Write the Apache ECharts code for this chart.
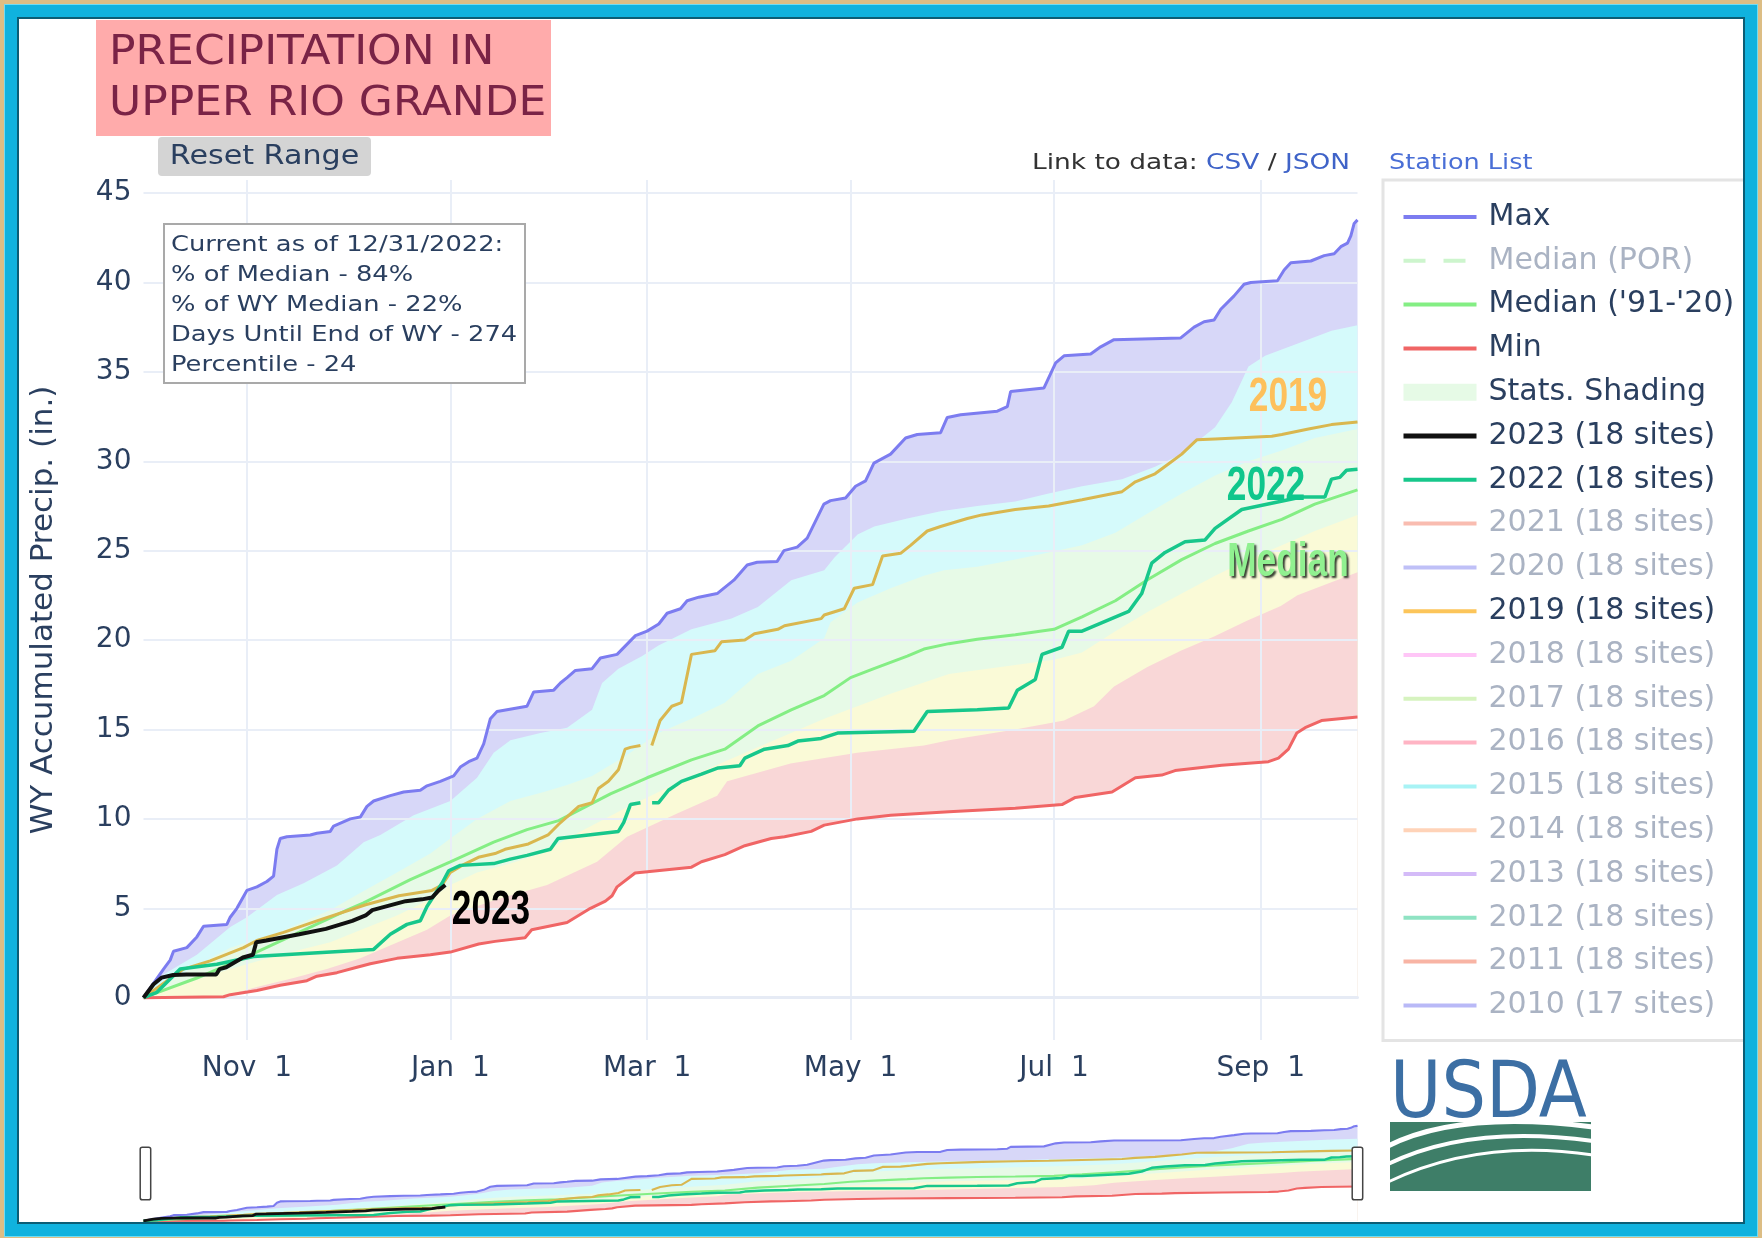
<!DOCTYPE html>
<html>
<head>
<meta charset="utf-8">
<title>Precipitation in Upper Rio Grande</title>
<script src="https://cdn.jsdelivr.net/npm/echarts@6/dist/echarts.min.js"></script>
<style>
  html, body { margin: 0; padding: 0; }
  body { width: 1762px; height: 1238px; background: #dcbd84; overflow: hidden; position: relative; }
  #paper { position: absolute; left: 17px; top: 17px; width: 1728px; height: 1209px; background: #fff; }
  #chart { position: absolute; left: 0; top: 0; width: 1762px; height: 1238px; }
  #frame {
    position: absolute; left: 5px; top: 5px; width: 1752px; height: 1231px;
    box-sizing: border-box; border: 12px solid #10b2de;
    box-shadow: inset 0 0 0 2px #0b5d75, 0 0 0 1px #6fdcf4;
    pointer-events: none;
  }
</style>
</head>
<body>
<div id="paper"></div>
<div id="chart"></div>
<div id="frame"></div>
<script>
// day of water year (0 = Oct 1), accumulated precip in inches
const xTickDays = [31, 92, 151, 212, 273, 335]
const xTickLabels = ['Nov  1', 'Jan  1', 'Mar  1', 'May  1', 'Jul  1', 'Sep  1']
const yTicks = [0, 5, 10, 15, 20, 25, 30, 35, 40, 45]

const maxPrecip = [[0,0],[3,0.8],[6,1.6],[8,2.1],[9,2.6],[13,2.8],[16,3.4],[18,4.0],[25,4.1],[26,4.5],[28,5.0],[31,6.0],[34,6.2],[37,6.5],[39,6.8],[40,8.3],[41,8.9],[43,9.0],[50,9.1],[52,9.2],[56,9.3],[57,9.6],[62,10.0],[65,10.1],[67,10.7],[69,11.0],[74,11.3],[78,11.5],[83,11.6],[85,11.85],[89,12.1],[93,12.4],[95,12.9],[97.5,13.2],[100,13.4],[102,14.2],[104,15.6],[106,16.0],[112,16.2],[115,16.3],[117,17.1],[123,17.2],[125,17.6],[127,17.9],[129.5,18.3],[134.5,18.4],[137,19.0],[142,19.2],[147.5,20.25],[151,20.5],[154.5,20.9],[157,21.5],[161,21.75],[163,22.2],[166.5,22.4],[172,22.6],[177,23.35],[181,24.2],[184,24.35],[190,24.4],[192,25.0],[196,25.2],[199,25.7],[204,27.6],[206,27.8],[210.5,27.95],[213.5,28.6],[216.5,28.9],[219,29.9],[224,30.4],[228.5,31.3],[232,31.5],[239,31.6],[241,32.45],[245,32.6],[256,32.8],[259,33.05],[260,33.9],[270,34.1],[273.5,35.5],[276,35.9],[284,36.0],[287,36.4],[291,36.8],[311,36.9],[315,37.5],[318,37.8],[321,37.9],[323,38.5],[327,39.25],[330,39.9],[332,40.0],[340,40.1],[342,40.7],[344,41.1],[350,41.2],[354,41.5],[357,41.6],[359,42.0],[361,42.2],[362,42.6],[363,43.3],[364,43.5]]
const p90Precip = [[0,0],[6,1.3],[16,2.4],[26,3.96],[31,4.5],[40,5.75],[48,6.4],[58,7.4],[66,8.7],[71,9.1],[81,10.2],[92,11.0],[100,12.3],[105,13.7],[110,14.4],[119,14.8],[127,15.1],[134.5,16.1],[137.5,17.6],[142.4,18.4],[149.4,19.1],[154.4,19.7],[164.3,20.6],[176.3,21.2],[184.2,21.85],[194.2,23.35],[204.1,23.9],[207.1,24.6],[214.1,25.9],[219.1,26.35],[229,26.8],[239,27.2],[250,27.5],[261.4,27.75],[271.4,28.2],[281.4,28.6],[293.4,29.0],[303.3,29.7],[311.3,30.4],[321.3,31.9],[326.3,33.3],[331.3,35.3],[336.3,35.9],[346.3,36.6],[356.2,37.3],[364,37.6]]
const p70Precip = [[0,0],[11,1.3],[26,2.8],[40,3.6],[56,4.9],[66,5.96],[76,7.0],[86,8.06],[92,8.9],[100,10.0],[110,11.0],[120,11.5],[127,11.9],[134.5,12.4],[144.4,13.5],[154.4,14.8],[164.3,15.6],[174.3,16.5],[184.2,18.1],[194.2,18.85],[204.1,20.1],[206,21.0],[214.1,22.1],[224,22.9],[234,23.6],[240,23.9],[250,24.1],[261.4,24.5],[271.4,24.9],[281.4,25.3],[291.4,26.0],[301.3,27.1],[311.3,28.2],[321.3,29.2],[331.3,30.0],[341.3,30.6],[351.2,31.3],[364,31.8]]
const p30Precip = [[0,0],[16,1.0],[26,1.6],[41,2.4],[56,3.1],[66,3.85],[76,4.6],[86,5.5],[92,6.3],[100,7.0],[110,7.5],[120,8.1],[127,8.9],[144.4,10.6],[164.3,12.4],[184.2,14.0],[204.1,15.6],[224,17.0],[241.5,18.1],[261.4,18.6],[273,18.9],[281.4,19.3],[291.4,20.5],[301.3,21.6],[311.3,22.6],[321.3,23.6],[331.3,24.5],[341.3,25.3],[351.2,26.1],[364,27.0]]
const p10Precip = [[0,0],[24,0.1],[34,0.6],[45,1.1],[55,1.6],[65,2.2],[75,3.0],[85,3.8],[92,4.6],[106,5.5],[121,6.3],[136,7.6],[145,9.0],[160,10.3],[172,11.3],[175,12.1],[194,13.1],[214,13.7],[234,14.1],[241.5,14.4],[261.4,15.0],[276,15.5],[285,16.3],[291,17.4],[301,18.5],[311,19.4],[321,20.2],[331,21.1],[341,21.9],[346,22.5],[364,23.8]]
const minPrecip = [[0,0],[24,0.05],[26,0.17],[34,0.4],[41,0.7],[49,0.95],[52,1.2],[58,1.4],[64,1.7],[68,1.9],[76,2.2],[86,2.4],[92,2.55],[100.5,3.0],[105.4,3.15],[114.4,3.35],[116.4,3.8],[127,4.2],[134,5.0],[138.5,5.4],[140.5,5.7],[142,6.2],[147.4,6.97],[164.3,7.3],[167.3,7.6],[174.3,8.0],[180.3,8.5],[188.2,8.9],[192.2,9.0],[200.2,9.3],[204.1,9.65],[214.1,10.0],[224,10.2],[241.5,10.4],[261.4,10.6],[275.4,10.8],[279.4,11.2],[290.4,11.5],[297.4,12.3],[305.3,12.45],[309.3,12.7],[323.3,13.0],[337.3,13.2],[340.3,13.4],[343.3,13.9],[345.8,14.8],[348.3,15.1],[353.2,15.5],[364,15.7]]
const medianPrecip = [[0,0],[16,1.1],[31,2.3],[46,3.6],[61,4.9],[66,5.3],[80,6.6],[92,7.6],[105,8.7],[115,9.4],[124.5,9.9],[140,11.4],[151,12.3],[164.3,13.3],[174.3,13.9],[184.2,15.2],[194.2,16.1],[204.1,16.9],[212,17.9],[219,18.4],[229,19.1],[234,19.5],[241.5,19.8],[250,20.05],[261.4,20.3],[273,20.6],[281.4,21.3],[291.4,22.2],[301.3,23.4],[311.3,24.5],[321.3,25.4],[331.3,26.1],[341.3,26.75],[351.2,27.6],[364,28.4]]
const wy2022 = [[0,0],[4,0.3],[11,1.6],[22,1.87],[33,2.3],[69,2.7],[74,3.55],[79,4.1],[83,4.3],[85,5.1],[89.5,6.4],[91.5,7.1],[95,7.4],[105,7.5],[110,7.75],[115,7.96],[122,8.3],[124.3,8.9],[142.4,9.3],[144,9.8],[146,10.8],[149,10.9],[150.5,null],[152.5,10.9],[154.4,10.9],[157.4,11.6],[161.3,12.1],[167.3,12.5],[172.3,12.85],[178.8,12.97],[180.3,13.4],[186.2,13.9],[193.2,14.1],[196.2,14.35],[203.2,14.5],[208.1,14.8],[231,14.9],[235,16.0],[250,16.1],[259.4,16.2],[262,17.2],[267.4,17.8],[269.4,19.2],[275.4,19.6],[277.4,20.5],[281.4,20.5],[295.4,21.6],[299.3,22.6],[302.3,24.3],[306.3,24.9],[312.3,25.5],[318.3,25.6],[321.3,26.25],[329.3,27.3],[347.2,28.0],[354.2,28.0],[356.2,29.0],[358.7,29.1],[360.7,29.5],[364,29.55]]
const wy2019 = [[0,0],[7,0.94],[12,1.6],[20,2.06],[30,2.8],[34,3.2],[42,3.65],[52,4.3],[66.6,5.2],[76.6,5.7],[86.5,6.0],[89.5,6.3],[92,7.0],[95.5,7.4],[100.4,7.85],[105.4,8.06],[108.4,8.3],[115.4,8.6],[121.3,9.1],[124.5,9.7],[127.5,10.2],[130.5,10.7],[134.5,10.9],[136.4,11.7],[139.4,12.1],[142.4,12.75],[144.4,13.9],[146,14.0],[149,14.1],[150.5,null],[152.4,14.1],[154.9,15.5],[158.4,16.3],[161.3,16.5],[164.3,19.2],[171.3,19.4],[173.3,19.9],[180.3,20.0],[183.2,20.35],[190.2,20.6],[192.2,20.8],[203.2,21.2],[204.1,21.4],[210.1,21.75],[213.1,22.9],[218.6,23.1],[221.6,24.7],[227,24.85],[230,25.3],[235,26.1],[239,26.35],[247,26.8],[251.4,27.0],[261.4,27.3],[271.4,27.5],[281.4,27.85],[293.4,28.3],[297.4,28.85],[303.3,29.3],[307.3,29.85],[311.3,30.4],[315.8,31.2],[321.3,31.25],[338.3,31.4],[341.3,31.5],[349.3,31.8],[356.2,32.05],[364,32.2]]
const wy2023 = [[0,0],[3,0.75],[5.4,1.12],[8.9,1.27],[12.9,1.3],[21.8,1.3],[22.8,1.6],[24.8,1.7],[29.8,2.25],[32.8,2.4],[33.8,3.1],[36.8,3.2],[46.7,3.55],[54.7,3.85],[62.6,4.3],[66.6,4.6],[68.6,4.9],[73.6,5.15],[78.6,5.4],[83.5,5.5],[86.5,5.6],[88.5,6.0],[90.5,6.3]]

const legendNames = ['Max', 'Median (POR)', "Median ('91-'20)", 'Min', 'Stats. Shading',
  '2023 (18 sites)', '2022 (18 sites)', '2021 (18 sites)', '2020 (18 sites)', '2019 (18 sites)',
  '2018 (18 sites)', '2017 (18 sites)', '2016 (18 sites)', '2015 (18 sites)', '2014 (18 sites)',
  '2013 (18 sites)', '2012 (18 sites)', '2011 (18 sites)', '2010 (17 sites)']
// traces that are only in the legend (hidden in the plot)
const ghostNames = ['Median (POR)', '2021 (18 sites)', '2020 (18 sites)', '2018 (18 sites)', '2017 (18 sites)',
  '2016 (18 sites)', '2015 (18 sites)', '2014 (18 sites)', '2013 (18 sites)', '2012 (18 sites)',
  '2011 (18 sites)', '2010 (17 sites)']
const ghostColors = ['#cdf5cd', '#f9bcb0', '#bfc0f7', '#ffc6f7', '#d6f3bf', '#ffb4c4', '#a8f3f5',
  '#ffd3b8', '#d4bbf8', '#8fe3c3', '#f8b4a4', '#b9b9f7']

const statsLines = ['Current as of 12/31/2022:', '% of Median - 84%', '% of WY Median - 22%',
  'Days Until End of WY - 274', 'Percentile - 24']

const FONT = 'DejaVu Sans'
const INK = '#2a3f5f'
const FADED = '#aab3c3'
const Y_MIN = -2.366
const Y_MAX = 45.73

function fillSeries(name, data, color, idx) {
  return {
    name, type: 'line', data, xAxisIndex: idx, yAxisIndex: idx,
    symbol: 'none', silent: true, z: 1,
    lineStyle: { width: 0, opacity: 0 },
    itemStyle: { color },
    areaStyle: { color, opacity: 1 }
  }
}

function lineSeries(name, data, color, width, idx, type) {
  return {
    name, type: 'line', data, xAxisIndex: idx, yAxisIndex: idx,
    symbol: 'none', silent: true, z: 3, connectNulls: false,
    itemStyle: { color },
    lineStyle: { color, width, type: type || 'solid' }
  }
}

function plotSeries(idx, k) {
  return [
    fillSeries('Max band', maxPrecip, '#d7d7f8', idx),
    fillSeries('90% band', p90Precip, '#d5fafb', idx),
    fillSeries('Stats. Shading', p70Precip, '#e7fae7', idx),
    fillSeries('30% band', p30Precip, '#fafad7', idx),
    fillSeries('10% band', p10Precip, '#f9d7d7', idx),
    fillSeries('Below min', minPrecip, '#ffffff', idx),
    lineSeries('Max', maxPrecip, '#7c7cf0', 3 * k, idx),
    lineSeries('Min', minPrecip, '#f06565', 3 * k, idx),
    lineSeries("Median ('91-'20)", medianPrecip, '#84ee84', 3 * k, idx),
    lineSeries('2019 (18 sites)', wy2019, '#d9b74f', 3 * k, idx),
    lineSeries('2022 (18 sites)', wy2022, '#17c78b', 3.5 * k, idx),
    lineSeries('2023 (18 sites)', wy2023, '#111111', 4 * k, idx)
  ]
}

const ghostSeries = ghostNames.map((n, i) =>
  lineSeries(n, [], ghostColors[i], 4, 0, n === 'Median (POR)' ? [22, 18] : 'solid'))

const legendData = legendNames.map(n => {
  const item = { name: n, textStyle: { color: ghostNames.includes(n) ? FADED : INK } }
  if (n === 'Stats. Shading') { item.icon = 'rect'; item.itemStyle = { color: '#e6fae6', borderWidth: 0, opacity: 1 } }
  if (n === '2019 (18 sites)') item.lineStyle = { color: '#fcc55a' }
  if (n === '2023 (18 sites)') item.lineStyle = { width: 5 }
  return item
})

const chart = echarts.init(document.getElementById('chart'))

const annotation = (text, x, y, color, shadow) => ({
  type: 'text', x, y, scaleX: 0.72, z: 20,
  style: Object.assign({
    x: 0, y: 0, text, align: 'center', verticalAlign: 'middle',
    fontFamily: 'Liberation Sans', fontWeight: 'bold', fontSize: 49, fill: color
  }, shadow ? { textShadowColor: 'rgba(20,30,20,0.85)', textShadowBlur: 2, textShadowOffsetX: 2, textShadowOffsetY: 2 } : {})
})

// plain text block, stretched a little to match the wide page font
const label = (text, x, y, size, fill, sx, align) => ({
  type: 'text', x, y, scaleX: sx, z: 21,
  style: { x: 0, y: 0, text, align: align || 'left', verticalAlign: 'middle', fontFamily: FONT, fontSize: size, fill }
})

chart.setOption({
  animation: false,
  backgroundColor: 'transparent',
  grid: [
    { left: 143.5, top: 180, width: 1214, height: 860 },
    { left: 143.5, top: 1121, width: 1214, height: 105 }
  ],
  xAxis: [
    {
      type: 'value', gridIndex: 0, min: 0, max: 364, z: 2,
      axisLine: { show: true, onZero: true, lineStyle: { color: '#e6ebf5', width: 3 } },
      axisTick: { show: false, customValues: xTickDays },
      axisLabel: {
        customValues: xTickDays, formatter: v => xTickLabels[xTickDays.indexOf(v)],
        fontFamily: FONT, fontSize: 28, color: INK, margin: 15
      },
      splitLine: { show: true, lineStyle: { color: '#e9eef7', width: 2 } }
    },
    { type: 'value', gridIndex: 1, min: 0, max: 364, show: false }
  ],
  yAxis: [
    {
      type: 'value', gridIndex: 0, min: Y_MIN, max: Y_MAX, z: 2,
      axisLine: { show: false },
      axisTick: { show: false, customValues: yTicks },
      axisLabel: { customValues: yTicks, fontFamily: FONT, fontSize: 28, color: INK, margin: 12 },
      splitLine: { show: true, lineStyle: { color: '#e9eef7', width: 2 } },
      name: 'WY Accumulated Precip. (in.)', nameLocation: 'middle', nameGap: 84, nameRotate: 90,
      nameTextStyle: { fontFamily: FONT, fontSize: 31, color: INK }
    },
    { type: 'value', gridIndex: 1, min: Y_MIN, max: Y_MAX, show: false }
  ],
  legend: {
    orient: 'vertical', left: 1383, top: 180,
    padding: [22, 14, 20, 18], itemWidth: 73, itemHeight: 17, itemGap: 13.8,
    borderColor: '#e4e4e4', borderWidth: 3, backgroundColor: '#fff',
    selectedMode: false,
    itemStyle: { opacity: 0 },
    lineStyle: { width: 4 },
    textStyle: { fontFamily: FONT, fontSize: 30, color: INK, lineHeight: 30, padding: [0, 0, 0, 7] },
    data: legendData
  },
  dataZoom: [{
    type: 'slider', xAxisIndex: 0, filterMode: 'none', start: 0, end: 100,
    left: 143.5, width: 1214, top: 1121, height: 105,
    showDataShadow: false, showDetail: false, brushSelect: false,
    backgroundColor: 'rgba(0,0,0,0)', borderColor: 'rgba(0,0,0,0)', fillerColor: 'rgba(0,0,0,0)',
    handleIcon: 'path://M2,0 h6 a2,2 0 0 1 2,2 v46 a2,2 0 0 1 -2,2 h-6 a2,2 0 0 1 -2,-2 v-46 a2,2 0 0 1 2,-2 z',
    handleSize: '50%',
    handleStyle: { color: '#ffffff', borderColor: '#444', borderWidth: 1.5 },
    moveHandleSize: 0,
    emphasis: { handleStyle: { color: '#ffffff', borderColor: '#444', borderWidth: 1.5 } }
  }],
  graphic: [
    // title block
    { type: 'rect', z: 20, shape: { x: 96, y: 20, width: 455, height: 116 }, style: { fill: '#ffabab' } },
    label('PRECIPITATION IN', 109, 54, 40, '#7a2346', 1.1),
    label('UPPER RIO GRANDE', 109, 105, 40, '#7a2346', 1.1),
    // reset button
    { type: 'rect', z: 20, shape: { x: 158, y: 137, width: 213, height: 39, r: 4 }, style: { fill: '#d4d4d4' } },
    label('Reset Range', 264.5, 157, 26, INK, 1.16, 'center'),
    // data links
    {
      type: 'text', x: 1032, y: 163, scaleX: 1.2, z: 21,
      style: {
        x: 0, y: 0, verticalAlign: 'middle',
        text: '{a|Link to data: }{b|CSV}{a| / }{b|JSON}',
        rich: {
          a: { fontFamily: FONT, fontSize: 22, fill: '#333' },
          b: { fontFamily: FONT, fontSize: 22, fill: '#3f63c8' }
        }
      }
    },
    label('Station List', 1389, 163, 22, '#4a6fd6', 1.16),
    // stats box
    { type: 'rect', z: 20, shape: { x: 164, y: 224, width: 361, height: 159 }, style: { fill: '#fff', stroke: '#a9a9a9', lineWidth: 2 } },
    {
      type: 'text', x: 171, y: 230, scaleX: 1.17, z: 21,
      style: { x: 0, y: 0, text: statsLines.join('\n'), verticalAlign: 'top', lineHeight: 30, fontFamily: FONT, fontSize: 22, fill: INK }
    },
    // series annotations
    annotation('2019', 1288, 397, '#fdc05c'),
    annotation('2022', 1266, 486, '#10c68c'),
    annotation('Median', 1288, 562, '#90f090', true),
    annotation('2023', 491, 910, '#000000'),
    // USDA logo
    { type: 'text', x: 1390, y: 1097, scaleX: 0.9, z: 20, style: { x: 0, y: 0, text: 'USDA', verticalAlign: 'middle', fontFamily: FONT, fontSize: 78, fill: '#3c6fa4' } },
    { type: 'rect', z: 20, shape: { x: 1390, y: 1122, width: 201, height: 69 }, style: { fill: '#3e7e68' } },
    { type: 'bezierCurve', z: 21, shape: { x1: 1388, y1: 1146, cpx1: 1460, cpy1: 1110, x2: 1593, y2: 1127 }, style: { stroke: '#fff', lineWidth: 5, fill: null } },
    { type: 'bezierCurve', z: 21, shape: { x1: 1388, y1: 1164, cpx1: 1470, cpy1: 1124, x2: 1593, y2: 1141 }, style: { stroke: '#fff', lineWidth: 4, fill: null } },
    { type: 'bezierCurve', z: 21, shape: { x1: 1388, y1: 1182, cpx1: 1480, cpy1: 1138, x2: 1593, y2: 1155 }, style: { stroke: '#fff', lineWidth: 3, fill: null } }
  ],
  series: [...plotSeries(0, 1), ...plotSeries(1, 0.7), ...ghostSeries]
})
</script>
</body>
</html>
